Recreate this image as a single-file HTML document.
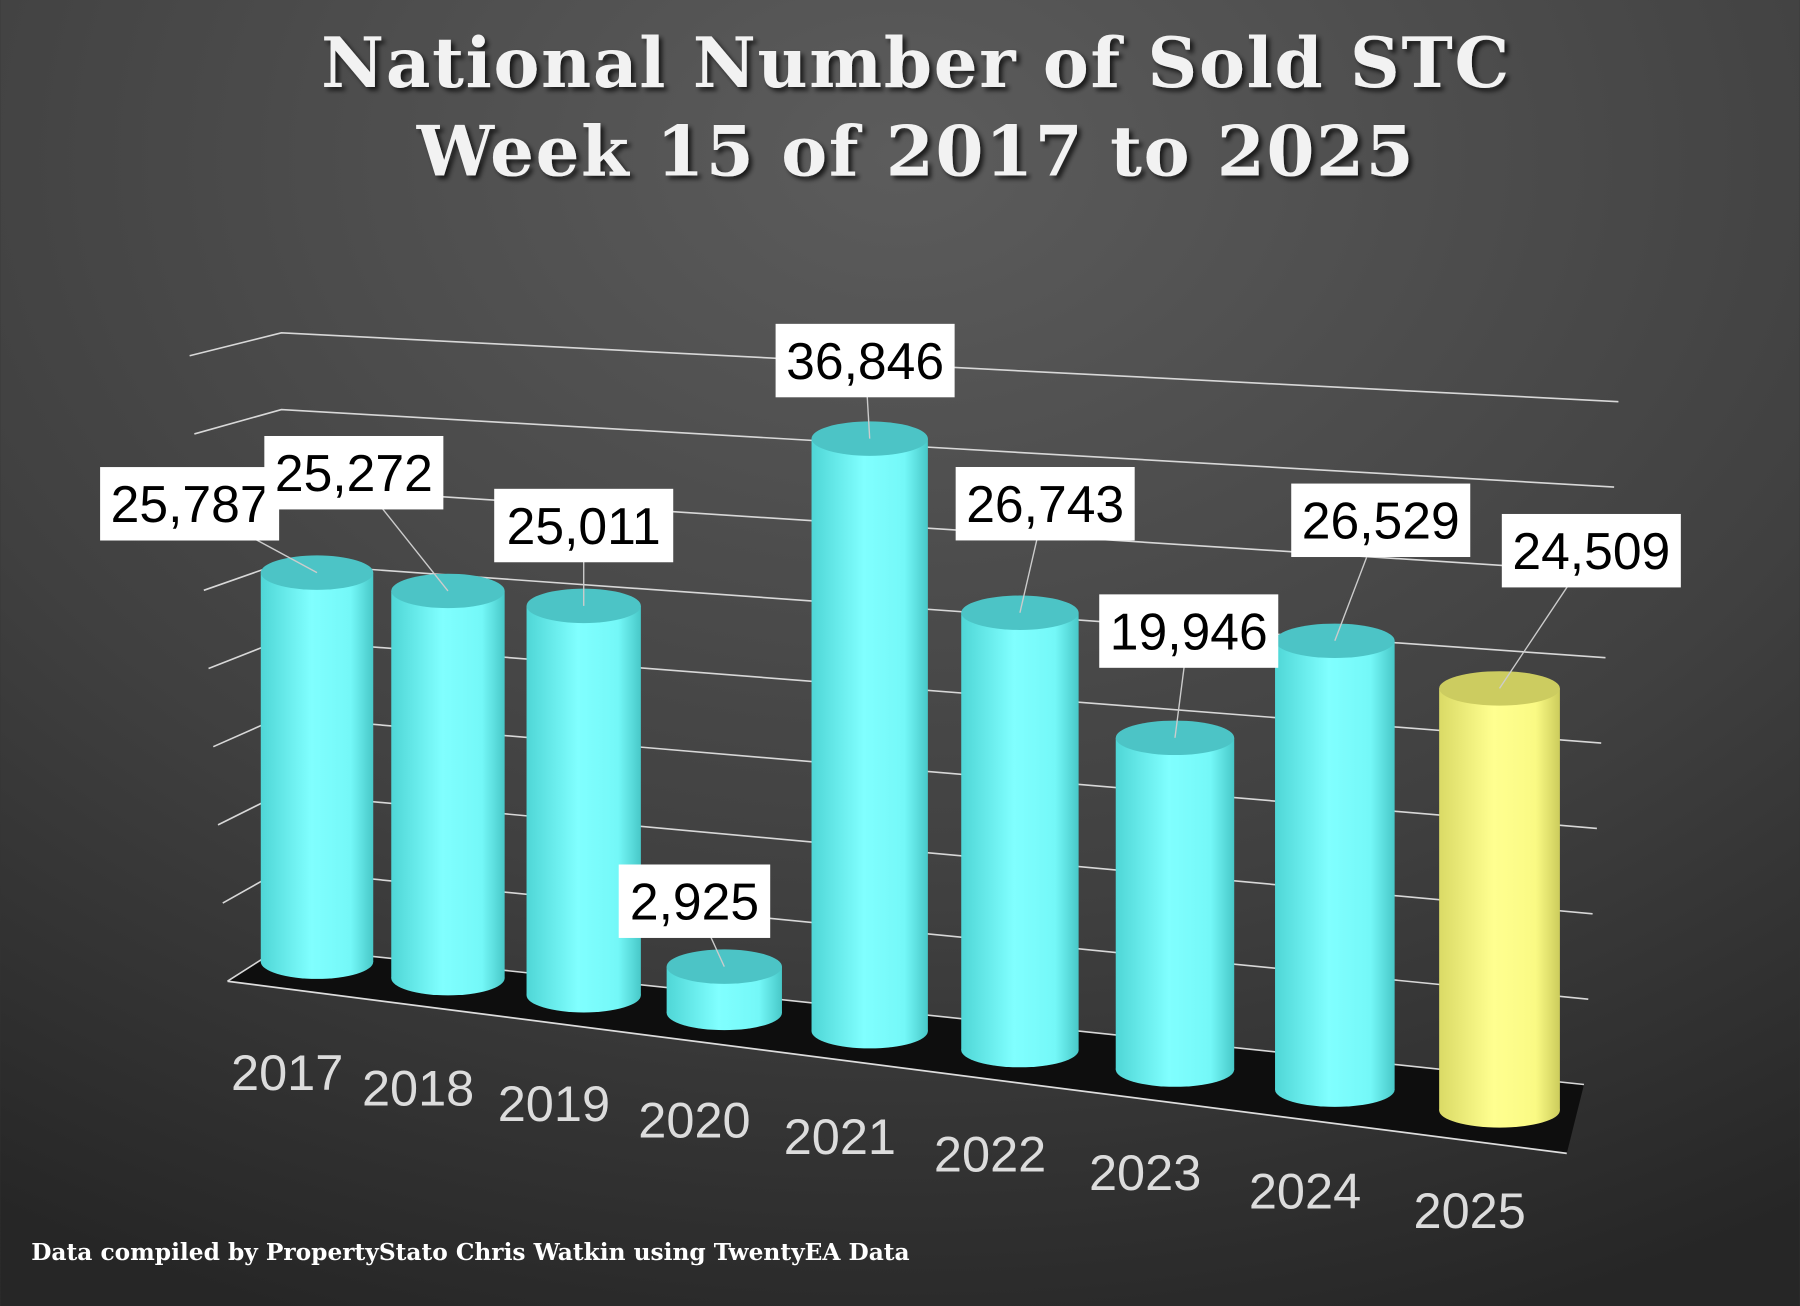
<!DOCTYPE html>
<html><head><meta charset="utf-8"><style>
html,body{margin:0;padding:0;width:1800px;height:1306px;overflow:hidden;background:#333}
svg{display:block}
</style></head><body>
<svg id="chart" width="1800" height="1306" viewBox="0 0 1568 1138" xmlns="http://www.w3.org/2000/svg">
<defs>
<radialGradient id="bg" cx="0.5" cy="0.12" r="0.95">
<stop offset="0" stop-color="#5c5c5c"/><stop offset="0.6" stop-color="#404040"/><stop offset="1" stop-color="#262626"/>
</radialGradient>
<linearGradient id="cyan" x1="0" x2="1" y1="0" y2="0">
<stop offset="0" stop-color="#4fd6d6"/><stop offset="0.45" stop-color="#80ffff"/><stop offset="0.8" stop-color="#74f8f8"/><stop offset="1" stop-color="#48c8c8"/>
</linearGradient>
<linearGradient id="yellow" x1="0" x2="1" y1="0" y2="0">
<stop offset="0" stop-color="#dada66"/><stop offset="0.45" stop-color="#ffff90"/><stop offset="0.8" stop-color="#fafa84"/><stop offset="1" stop-color="#cccc5c"/>
</linearGradient>
<filter id="ts"><feDropShadow dx="3" dy="3" stdDeviation="2" flood-color="#000" flood-opacity="0.7"/></filter>
</defs>
<rect width="1568" height="1138" fill="url(#bg)"/>
<g font-family="'DejaVu Serif','Liberation Serif',serif" font-weight="bold" font-size="60" letter-spacing="1.5" fill="#f2f2f2" text-anchor="middle" filter="url(#ts)">
<text x="798" y="76">National Number of  Sold STC</text>
<text x="798" y="153">Week 15 of 2017 to 2025</text>
</g>
<polygon points="198,855 245,825 1380,945 1365,1005" fill="#0e0e0e"/>
<line x1="198" y1="855" x2="1365" y2="1005" stroke="#ddd" stroke-width="1.5"/>
<g id="grid"></g>
<g id="bars"></g>
<g id="labels"></g>
<g id="years"></g>
<text x="27" y="1098" font-family="'DejaVu Serif','Liberation Serif',serif" font-weight="bold" font-size="20.3" fill="#fff">Data compiled by PropertyStato Chris Watkin using TwentyEA Data</text>
</svg>
<script>
const categories = ["2017","2018","2019","2020","2021","2022","2023","2024","2025"];
const values = [25787,25272,25011,2925,36846,26743,19946,26529,24509];
const valueLabels = ["25,787","25,272","25,011","2,925","36,846","26,743","19,946","26,529","24,509"];
const gridTicks = [0,5000,10000,15000,20000,25000,30000,35000,40000];

const NS="http://www.w3.org/2000/svg";
function mk(t,a,p){const e=document.createElementNS(NS,t);for(const k in a)e.setAttribute(k,a[k]);p.appendChild(e);return e;}
// layout offsets for label boxes (not data)
const layoutDx=[-111,-82,0,-26,-4,22,12,40,80];
const layoutDy=[-60,-103,-70,-57,-68,-95,-93,-105,-120];
function xPos(i){return 276+i*112+i*i*2.1;}
function baseY(x){return 838+(x-276)*0.1257;}
function scaleAt(x){return 0.01265+0.0000018*x;}
function yVal(x,v){return baseY(x)-v*scaleAt(x);}
function barW(x){return 98+(x-276)*0.007;}

const grid=document.getElementById('grid');
gridTicks.forEach((t,i)=>{
  const k=i/(gridTicks.length-1);
  const lx=165+(198-165)*k, ly=310+(855-310)*k;
  const ix=245, iy=290+(825-290)*k;
  const rx=1410+(1380-1410)*k, ry=350+(945-350)*k;
  const pl=mk('polyline',{points:`${lx},${ly} ${ix},${iy} ${rx},${ry}`,fill:'none',stroke:'#d8d8d8','stroke-width':1.4},grid);
  
  
});

const bars=document.getElementById('bars'),labels=document.getElementById('labels'),years=document.getElementById('years');
values.forEach((v,i)=>{
  const x=xPos(i),w=barW(x),rx=w/2,ry=15,b=baseY(x),top=yVal(x,v);
  const last=i===values.length-1;
  const g=mk('g',{},bars);
  
  
  mk('ellipse',{cx:x,cy:b,rx:rx,ry:ry,fill:last?'url(#yellow)':'url(#cyan)'},g);
  mk('rect',{x:x-rx,y:top,width:w,height:b-top,fill:last?'url(#yellow)':'url(#cyan)'},g);
  mk('ellipse',{cx:x,cy:top,rx:rx,ry:ry,fill:last?'#cccc60':'#4cc4c6'},g);
  const lx=x+layoutDx[i], ly=top+layoutDy[i];
  const lg=mk('g',{},labels);
  
  
  mk('line',{x1:x,y1:top,x2:lx,y2:ly,stroke:'#ccc','stroke-width':1.2},lg);
  const bw=valueLabels[i].length*24+12;
  mk('rect',{x:lx-bw/2,y:ly-32,width:bw,height:64,fill:'#fff'},lg);
  const tx=mk('text',{x:lx,y:ly+16,'text-anchor':'middle','font-family':"'Liberation Sans',sans-serif",'font-size':45,fill:'#000'},lg);
  tx.textContent=valueLabels[i];
  const yt=mk('text',{x:x-26,y:b+112-i*1.2,'text-anchor':'middle','font-family':"'Liberation Sans',sans-serif",'font-size':44,fill:'#dcdcdc'},years);
  
  
  yt.textContent=categories[i];
});
</script>
</body></html>
